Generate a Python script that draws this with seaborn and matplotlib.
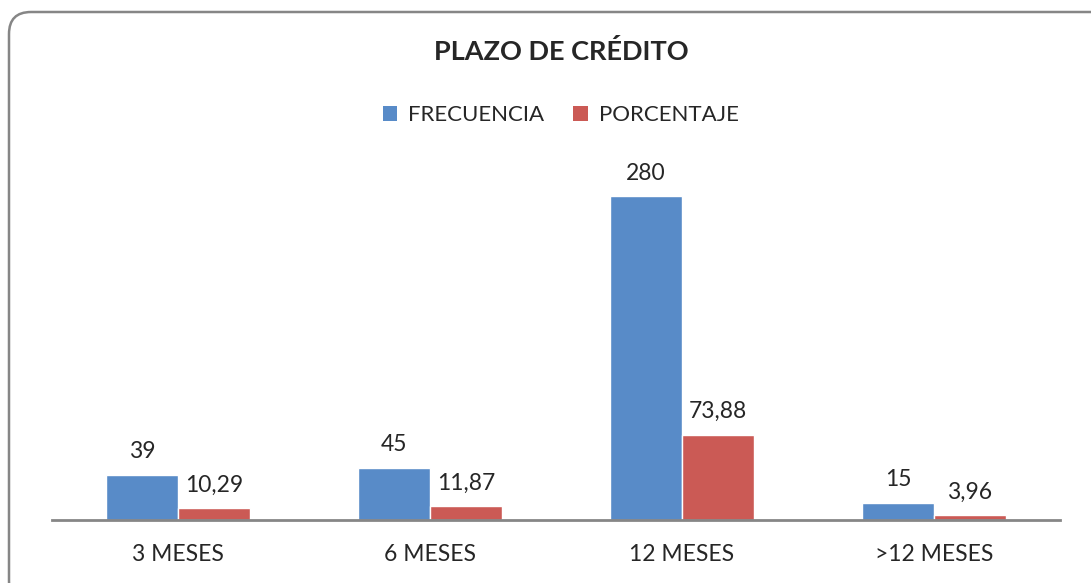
import matplotlib
matplotlib.use("Agg")
import matplotlib.pyplot as plt
from matplotlib.patches import FancyBboxPatch, Patch
import seaborn as sns
import pandas as pd

# chart data
categorias = ["3 MESES", "6 MESES", "12 MESES", ">12 MESES"]
frecuencia = [39, 45, 280, 15]
porcentaje = [10.29, 11.87, 73.88, 3.96]
series = ["FRECUENCIA", "PORCENTAJE"]

colors = ["#588BC8", "#CB5A55"]

df = pd.DataFrame({
    "categoria": categorias * 2,
    "serie": [series[0]] * 4 + [series[1]] * 4,
    "valor": frecuencia + porcentaje,
})

sns.set_style("white")
plt.rcParams["font.family"] = ["Lato", "DejaVu Sans"]

fig = plt.figure(figsize=(10.91, 5.83), dpi=100)
ax = fig.add_axes([0.0477, 0.108, 0.9239, 0.5955])

sns.barplot(data=df, x="categoria", y="valor", hue="serie", order=categorias,
            hue_order=series, palette=colors, width=0.572, saturation=1,
            ax=ax, legend=False)

ax.set_ylim(0, 300)
ax.set_xlim(-0.5, 3.5)
ax.set_xlabel("")
ax.set_ylabel("")
ax.set_yticks([])
for side in ["top", "right", "left"]:
    ax.spines[side].set_visible(False)
ax.spines["bottom"].set_color("#868686")
ax.spines["bottom"].set_linewidth(2)
ax.tick_params(axis="x", length=0, pad=17, labelsize=16.5)

# value labels, comma decimals
labels = [
    [str(v) for v in frecuencia],
    [f"{v:.2f}".replace(".", ",") for v in porcentaje],
]
for cont, lab in zip(ax.containers, labels):
    ax.bar_label(cont, labels=lab, padding=9, fontsize=16.5)

fig.text(0.5147, 1 - 52 / 583, "PLAZO DE CRÉDITO", ha="center", va="center",
         fontsize=19.5, fontweight="bold")

handles = [Patch(facecolor=c, edgecolor="none") for c in colors]
fig.legend(handles, series, loc="center", bbox_to_anchor=(0.514, 1 - 115 / 583),
           ncol=2, frameon=False, fontsize=16, handlelength=0.65, handleheight=0.65,
           handletextpad=0.5, columnspacing=1.3)

# rounded chart frame (in pixels), right and bottom sides run off the image
frame = FancyBboxPatch((9, -20), 1120, 591, boxstyle="round,pad=0,rounding_size=22",
                       transform=None, facecolor="none", edgecolor="#868686",
                       linewidth=1.8, clip_on=False)
fig.patches.append(frame)

fig.savefig("out.png", dpi=100)
